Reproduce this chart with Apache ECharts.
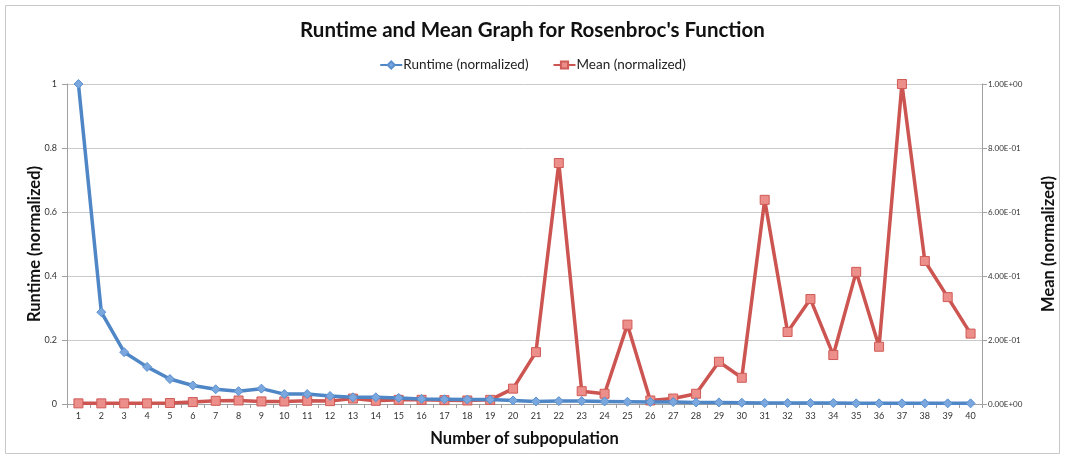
<!DOCTYPE html>
<html><head><meta charset="utf-8">
<script src="https://cdn.jsdelivr.net/npm/echarts@6/dist/echarts.min.js"></script>
<style>html,body{margin:0;padding:0;background:#fff}#c{width:1065px;height:459px}</style>
</head><body><div id="c"></div>
<script>
const categories = Array.from({length:40},(_,i)=>String(i+1));
const runtime = [1.0,0.287,0.162,0.116,0.078,0.058,0.046,0.040,0.048,0.031,0.031,0.025,0.021,0.021,0.019,0.016,0.015,0.014,0.014,0.011,0.008,0.009,0.009,0.008,0.007,0.006,0.006,0.005,0.005,0.004,0.003,0.003,0.003,0.003,0.002,0.002,0.002,0.002,0.002,0.002];
const mean = [0.002,0.002,0.002,0.002,0.003,0.006,0.010,0.011,0.008,0.008,0.010,0.009,0.017,0.010,0.013,0.013,0.012,0.011,0.013,0.048,0.162,0.753,0.040,0.032,0.248,0.011,0.017,0.032,0.132,0.082,0.638,0.225,0.328,0.153,0.413,0.179,1.0,0.447,0.334,0.220];
const leftTicks = [0,0.2,0.4,0.6,0.8,1];

const font = 'Lato, "Open Sans", sans-serif';
const chart = echarts.init(document.getElementById('c'));
function expFmt(v){
  const s = Number(v).toExponential(2).toUpperCase();
  return s.replace(/E([+-])(\d)$/, 'E$10$2');
}
chart.setOption({
  animation:false,
  backgroundColor:'#fff',
  graphic:[{type:'rect',shape:{x:5.5,y:5.5,width:1054,height:448},style:{fill:'none',stroke:'#c8c8c8',lineWidth:1},silent:true}],
  title:{text:"Runtime and Mean Graph for Rosenbroc's Function",left:'center',top:15,
    textStyle:{fontFamily:font,fontSize:20.5,fontWeight:'bold',color:'#111'}},
  legend:{top:53,left:'center',itemGap:24,itemWidth:22,itemHeight:9,
    textStyle:{fontFamily:font,fontSize:13.5,color:'#222',padding:[0,0,0,-4]},
    data:['Runtime (normalized)','Mean (normalized)']},
  grid:{left:67,right:77,top:84,bottom:55},
  xAxis:{type:'category',data:categories,boundaryGap:true,
    name:'Number of subpopulation',nameLocation:'middle',nameGap:26,
    nameTextStyle:{fontFamily:font,fontSize:16.5,fontWeight:'bold',color:'#111'},
    axisLine:{lineStyle:{color:'#a0a0a0'}},
    axisTick:{show:true,length:4,lineStyle:{color:'#a0a0a0'}},
    axisLabel:{fontFamily:font,fontSize:9,color:'#333',interval:0,margin:8}},
  yAxis:[
    {type:'value',min:0,max:1,interval:0.2,position:'left',
     name:'Runtime (normalized)',nameLocation:'middle',nameGap:24,nameMoveOverlap:false,
     nameTextStyle:{fontFamily:font,fontSize:16.5,fontWeight:'bold',color:'#111'},
     axisLine:{show:true,lineStyle:{color:'#a0a0a0'}},
     axisTick:{show:true,length:5,lineStyle:{color:'#a0a0a0'}},
     axisLabel:{fontFamily:font,fontSize:9,color:'#333',margin:10,formatter:v=>String(Math.round(v*10)/10)},
     splitLine:{show:true,lineStyle:{color:'#cacaca',width:1}}},
    {type:'value',min:0,max:1,interval:0.2,position:'right',
     name:'Mean (normalized)',nameLocation:'middle',nameGap:58,
     nameTextStyle:{fontFamily:font,fontSize:16.5,fontWeight:'bold',color:'#111'},
     axisLine:{show:true,lineStyle:{color:'#a0a0a0'}},
     axisTick:{show:true,length:5,lineStyle:{color:'#a0a0a0'}},
     axisLabel:{fontFamily:font,fontSize:8,color:'#333',margin:6,formatter:expFmt},
     splitLine:{show:false}}
  ],
  series:[
    {name:'Runtime (normalized)',type:'line',data:runtime,yAxisIndex:0,
     symbol:'diamond',symbolSize:9,
     lineStyle:{color:'#4f86c6',width:3.5},
     itemStyle:{color:'#79a7de',borderColor:'#5b90cf',borderWidth:1},
     color:'#4f86c6',z:3},
    {name:'Mean (normalized)',type:'line',data:mean,yAxisIndex:1,
     symbol:'rect',symbolSize:9,
     lineStyle:{color:'#cc5552',width:3.5},
     itemStyle:{color:'#ec8e8a',borderColor:'#cf5a56',borderWidth:1},
     color:'#cc5552',z:2}
  ]
});
</script></body></html>
